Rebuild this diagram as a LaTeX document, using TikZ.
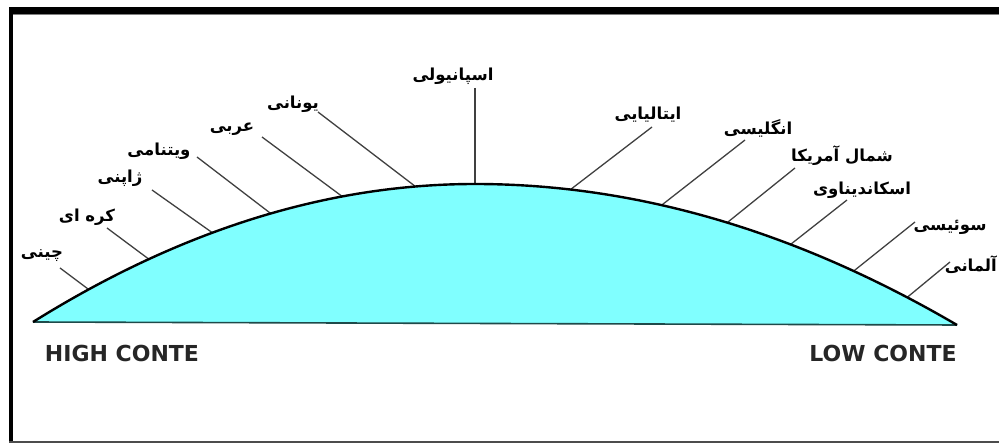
\documentclass[tikz,border=0pt]{standalone}
\usepackage{fontspec}
\setmainfont{DejaVu Sans}
\newfontfamily\arabicfont[Script=Arabic]{DejaVu Sans}
\TeXXeTstate=1
\definecolor{hillcyan}{HTML}{80FFFF}
\definecolor{baseteal}{HTML}{1F4A4A}
\newcommand{\fa}[1]{\arabicfont\bfseries\beginR #1\endR}

\begin{document}
\begin{tikzpicture}[x=1pt,y=-1pt,
    lbl/.style={inner sep=0pt,font=\fontsize{16.5}{18}\selectfont},
    tick/.style={draw=black!75,line width=1.3pt},
    side/.style={inner sep=0pt,text=black!85,font=\fontsize{22}{24}\selectfont\bfseries}]
  \useasboundingbox (0,0) rectangle (999,443);
  % frame
  \fill[black] (9,7) rectangle (999,14);
  \fill[black] (9,7) rectangle (12.5,442);
  \draw[gray,line width=1pt] (13,15) -- (999,15);
  \draw[black!70,line width=1.5pt] (9,442) -- (999,442);

  % labels, high context side
  \node[lbl] (chin) at (42,256) {\fa{چینی}};
  \node[lbl] (kore) at (87,217) {\fa{کره ای}};
  \node[lbl] (japa) at (120,178) {\fa{ژاپنی}};
  \node[lbl] (viet) at (159,151) {\fa{ویتنامی}};
  \node[lbl] (arab) at (232,129) {\fa{عربی}};
  \node[lbl] (gree) at (293,104) {\fa{یونانی}};
  \node[lbl] (span) at (453,76) {\fa{اسپانیولی}};
  % labels, low context side
  \node[lbl] (ital) at (648,115) {\fa{ایتالیایی}};
  \node[lbl] (engl) at (758,128) {\fa{انگلیسی}};
  \node[lbl] (namr) at (842,156) {\fa{شمال آمریکا}};
  \node[lbl] (scan) at (862,190) {\fa{اسکاندیناوی}};
  \node[lbl] (swis) at (950,227) {\fa{سوئیسی}};
  \node[lbl,anchor=east] (germ) at (997,265) {\fa{آلمانی}};

  % leader lines
  \coordinate (t1) at (60,268);   \coordinate (c1) at (92,292);
  \coordinate (t2) at (107,228);  \coordinate (c2) at (154,263);
  \coordinate (t3) at (152,190);  \coordinate (c3) at (217,236);
  \coordinate (t4) at (197,157);  \coordinate (c4) at (274,216);
  \coordinate (t5) at (262,137);  \coordinate (c5) at (347,200);
  \coordinate (t6) at (318,112);  \coordinate (c6) at (420,190);
  \coordinate (t7) at (475,88);   \coordinate (c7) at (475,190);
  \coordinate (t8) at (652,127);  \coordinate (c8) at (566,193);
  \coordinate (t9) at (745,140);  \coordinate (c9) at (658,208);
  \coordinate (t10) at (795,168); \coordinate (c10) at (723,226);
  \coordinate (t11) at (847,200); \coordinate (c11) at (786,248);
  \coordinate (t12) at (915,222); \coordinate (c12) at (850,274);
  \coordinate (t13) at (950,262); \coordinate (c13) at (904,300);
  \draw[tick] (t1) -- (c1);   \draw[tick] (t2) -- (c2);
  \draw[tick] (t3) -- (c3);   \draw[tick] (t4) -- (c4);
  \draw[tick] (t5) -- (c5);   \draw[tick] (t6) -- (c6);
  \draw[tick] (t7) -- (c7);   \draw[tick] (t8) -- (c8);
  \draw[tick] (t9) -- (c9);   \draw[tick] (t10) -- (c10);
  \draw[tick] (t11) -- (c11); \draw[tick] (t12) -- (c12);
  \draw[tick] (t13) -- (c13);

  % the hill
  \coordinate (hl) at (33,322);
  \coordinate (top) at (475,184);
  \coordinate (hr) at (957,325);
  \fill[hillcyan] (hl) .. controls (180.3,230) and (327.7,184) .. (top)
                  .. controls (635.7,184) and (796.3,231) .. (hr) -- cycle;
  \draw[baseteal,line width=1.6pt] (hl) -- (hr);
  \draw[black,line width=2.4pt] (hl) .. controls (180.3,230) and (327.7,184) .. (top)
                  .. controls (635.7,184) and (796.3,231) .. (hr);

  \node[side] (high) at (122,353) {HIGH CONTE};
  \node[side] (low) at (883,353) {LOW CONTE};
\end{tikzpicture}
\end{document}
